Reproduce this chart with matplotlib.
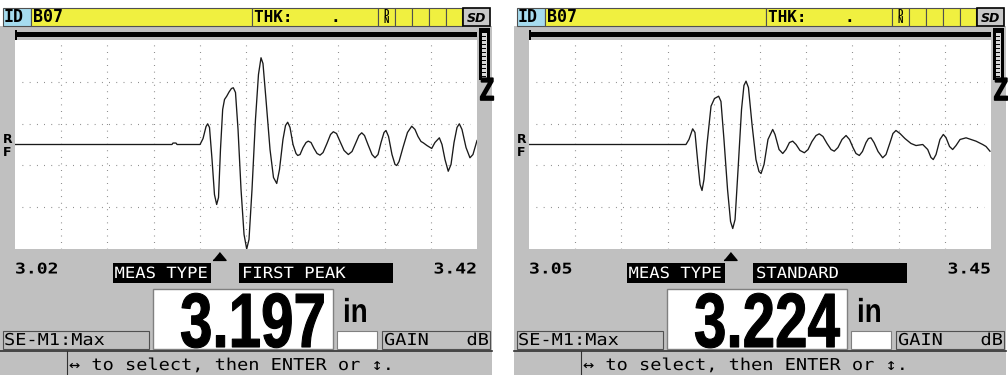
import matplotlib
matplotlib.use("Agg")
import matplotlib.pyplot as plt
from matplotlib.patches import Rectangle
from matplotlib.patheffects import AbstractPathEffect
from matplotlib.transforms import Affine2D, blended_transform_factory
import numpy as np

# ---------------- data ----------------
panel_ids = ["B07", "B07"]
range_start = [3.02, 3.05]
range_end = [3.42, 3.45]
meas_type_values = ["FIRST PEAK", "STANDARD"]
thickness = [3.197, 3.224]
unit_label = "in"
mode_label = "SE-M1:Max"
gain_label = "GAIN"
gain_unit = "dB"
help_text = "\u2194 to select, then ENTER or \u2195."
meas_type_label = "MEAS TYPE"

# RF waveform, panel 1 (x: thickness in inches, y: amplitude in % of half screen)
wave1_x = [3.0200, 3.1559, 3.1568, 3.1594, 3.1603, 3.1802, 3.1828, 3.1854, 3.1868, 3.1884,
           3.1906, 3.1927, 3.1946, 3.1962, 3.1979, 3.1998, 3.2014, 3.2033, 3.2053, 3.2074,
           3.2090, 3.2109, 3.2131, 3.2157, 3.2183, 3.2206, 3.2226, 3.2252, 3.2282, 3.2308,
           3.2330, 3.2347, 3.2373, 3.2408, 3.2438, 3.2466, 3.2490, 3.2520, 3.2542, 3.2561,
           3.2581, 3.2607, 3.2633, 3.2648, 3.2668, 3.2694, 3.2720, 3.2739, 3.2763, 3.2789,
           3.2815, 3.2841, 3.2867, 3.2901, 3.2932, 3.2956, 3.2984, 3.3014, 3.3049, 3.3086,
           3.3118, 3.3152, 3.3178, 3.3202, 3.3226, 3.3256, 3.3291, 3.3317, 3.3343, 3.3369,
           3.3395, 3.3412, 3.3434, 3.3464, 3.3490, 3.3505, 3.3525, 3.3559, 3.3598, 3.3635,
           3.3663, 3.3689, 3.3715, 3.3735, 3.3767, 3.3808, 3.3836, 3.3874, 3.3897, 3.3923,
           3.3951, 3.3975, 3.4001, 3.4027, 3.4047, 3.4070, 3.4105, 3.4139, 3.4165, 3.4200]
wave1_y = [0, 0, 1.4, 1.4, 0, 0, 5.7, 17.2, 19.8, 16.3,
           -14.4, -47.9, -57.4, -50.7, -4.8, 33.5, 43.1, 46.2, 50.2, 53.6,
           54.3, 49.8, 14.4, -43.1, -86.1, -100, -90.9, -43.1, 23.9, 67.0,
           83.0, 77.5, 43.1, -4.8, -31.6, -37.3, -23.9, 4.8, 18.2, 21.3,
           16.3, 0, -8.6, -10.5, -9.6, -2.9, 1.9, 3.2, 1.9, -3.8,
           -8.6, -10.2, -7.7, 1.0, 9.6, 12.2, 10.5, 2.9, -5.7, -9.6,
           -6.7, 1.9, 8.6, 11.2, 8.6, 0, -9.6, -12.7, -9.6, 1.9,
           11.5, 13.4, 7.7, -9.6, -19.1, -20.1, -16.3, -2.9, 11.5, 17.5,
           14.4, 7.7, 2.9, 1.6, -1.0, -3.8, 1.9, 6.4, 0, -14.4,
           -25.6, -19.1, 1.9, 16.3, 19.8, 14.4, -2.9, -12.7, -9.6, 3.8]

# RF waveform, panel 2
wave2_x = [3.0500, 3.1859, 3.1885, 3.1917, 3.1937, 3.1963, 3.1981, 3.1998, 3.2015, 3.2041,
           3.2076, 3.2106, 3.2142, 3.2162, 3.2188, 3.2219, 3.2245, 3.2264, 3.2284, 3.2310,
           3.2340, 3.2361, 3.2379, 3.2400, 3.2431, 3.2465, 3.2491, 3.2509, 3.2535, 3.2569,
           3.2610, 3.2630, 3.2665, 3.2697, 3.2725, 3.2755, 3.2783, 3.2812, 3.2846, 3.2884,
           3.2916, 3.2950, 3.2985, 3.3013, 3.3045, 3.3080, 3.3115, 3.3143, 3.3175, 3.3210,
           3.3245, 3.3275, 3.3305, 3.3331, 3.3360, 3.3387, 3.3418, 3.3439, 3.3461, 3.3487,
           3.3522, 3.3562, 3.3591, 3.3626, 3.3651, 3.3677, 3.3712, 3.3755, 3.3807, 3.3851,
           3.3909, 3.3952, 3.3980, 3.4000, 3.4024, 3.4058, 3.4087, 3.4110, 3.4141, 3.4168,
           3.4197, 3.4232, 3.4284, 3.4327, 3.4370, 3.4428, 3.4457, 3.4491]
wave2_y = [0, 0, 4.8, 15.0, 11.5, -19.1, -38.3, -44.0, -33.5, 0,
           36.7, 44.0, 46.2, 41.2, 4.8, -43.1, -73.7, -80.4, -71.8, -23.9,
           33.5, 56.5, 60.6, 54.5, 19.1, -14.4, -25.8, -27.8, -19.1, 4.8,
           14.4, 9.6, -4.8, -8.6, -4.8, 1.9, 3.2, 0, -5.7, -7.9,
           -4.8, 2.9, 8.6, 10.2, 7.7, 1.0, -4.8, -6.4, -2.9, 4.8,
           8.6, 4.8, -2.9, -8.6, -10.5, -6.7, 1.9, 5.7, 6.4, 1.9,
           -6.7, -12.7, -9.6, 1.9, 10.5, 13.4, 10.5, 5.7, 1.0, -1.0,
           0, -4.8, -12.4, -14.4, -9.6, 4.8, 9.6, 6.7, -1.9, -4.8,
           -1.0, 4.8, 6.4, 4.8, 3.2, 0, -1.9, -6.4]

waves_x = [wave1_x, wave2_x]
waves_y = [wave1_y, wave2_y]

# ---------------- style ----------------
W, H = 1008, 375
PANEL_W = 492
PANEL_OFFSETS = [0, 514]
GRAY = "#c0c0c0"
YELLOW = "#f0f040"
BLUE = "#a6dcef"
EDGE = "#505050"
MONO = ["DejaVu Sans Mono", "DejaVu Sans"]
BIG = ["Liberation Sans", "DejaVu Sans"]


class Stretch(AbstractPathEffect):
    """Scale glyph outlines about the text origin (baseline-left); optional stroke."""

    def __init__(self, sx=1.0, sy=1.0, stroke=0.0):
        super().__init__()
        self.sx, self.sy, self.stroke = sx, sy, stroke

    def draw_path(self, renderer, gc, tpath, affine, rgbFace=None):
        aff = Affine2D().scale(self.sx, self.sy) + affine
        if self.stroke > 0 and rgbFace is not None:
            gc0 = renderer.new_gc()
            gc0.copy_properties(gc)
            gc0.set_linewidth(self.stroke)
            gc0.set_foreground(rgbFace)
            renderer.draw_path(gc0, tpath, aff, rgbFace)
            gc0.restore()
        else:
            renderer.draw_path(gc, tpath, aff, rgbFace)


fig = plt.figure(figsize=(W / 100, H / 100), dpi=100)
fig.patch.set_facecolor("white")
bg = fig.add_axes([0, 0, 1, 1])
bg.set_xlim(0, W)
bg.set_ylim(H, 0)
bg.axis("off")


def rect(x0, y0, x1, y1, fc, ec="none", lw=0.8, z=1):
    bg.add_patch(Rectangle((x0, y0), x1 - x0, y1 - y0, facecolor=fc,
                           edgecolor=ec, linewidth=lw, zorder=z))


def txt(x, y, s, size, family=MONO, sx=1.0, sy=1.0, stroke=0.0, **kw):
    kw.setdefault("va", "baseline")
    kw.setdefault("ha", "left")
    kw.setdefault("zorder", 3)
    t = bg.text(x, y, s, fontsize=size, family=family, **kw)
    if sx != 1.0 or sy != 1.0 or stroke > 0:
        t.set_path_effects([Stretch(sx, sy, stroke)])
    return t


def draw_panel(i):
    ox = PANEL_OFFSETS[i]
    # panel background
    rect(ox, 26, ox + PANEL_W, H, GRAY, z=0)

    # ---- top status bar ----
    rect(ox + 3, 8, ox + 31, 26, BLUE, EDGE)
    rect(ox + 31, 8, ox + 252, 26, YELLOW, EDGE)
    rect(ox + 252, 8, ox + 378, 26, YELLOW, EDGE)
    for (a, b) in [(378, 395), (395, 412), (412, 429), (429, 446), (446, 462)]:
        rect(ox + a, 8, ox + b, 26, YELLOW, EDGE)
    rect(ox + 463, 8, ox + 490, 26, "#c8c8c8", "black", lw=1.2)
    txt(ox + 4, 22.5, "ID", 12, weight="bold")
    txt(ox + 33, 22.5, panel_ids[i], 12, weight="bold")
    txt(ox + 254, 22.5, "THK:    .", 11.5, weight="bold")
    txt(ox + 386.5, 15.5, "D", 6.5, weight="bold", ha="center")
    txt(ox + 386.5, 23, "N", 6.5, weight="bold", ha="center")
    txt(ox + 476.5, 21.5, "SD", 9, family="DejaVu Sans", weight="bold",
        style="italic", ha="center")

    # ---- waveform chrome ----
    rect(ox + 15, 32, ox + 477, 37, "black", z=2)
    rect(ox + 15, 30, ox + 16.5, 40, "black", z=2)
    rect(ox + 479, 28, ox + 490, 80, "black", z=2)
    rect(ox + 482, 33, ox + 487, 78, "#d8d8d8", z=3)
    for ty in np.arange(36, 78, 4):
        bg.plot([ox + 482, ox + 485], [ty, ty], color="black", lw=0.7, zorder=4)
    txt(ox + 480, 100, "Z", 16.5, family=BIG, weight="bold", sy=1.38, stroke=1.2)
    txt(ox + 3, 143, "R", 9, family="DejaVu Sans", weight="bold")
    txt(ox + 3, 156, "F", 9, family="DejaVu Sans", weight="bold")

    # ---- waveform axes ----
    ax = fig.add_axes([(ox + 15) / W, 1 - 249 / H, 462 / W, 209 / H])
    ax.set_facecolor("white")
    ax.set_xlim(range_start[i], range_end[i])
    ax.set_ylim(-100, 100)
    for s in ax.spines.values():
        s.set_visible(False)
    ax.set_xticks([])
    ax.set_yticks([])
    gx = np.linspace(range_start[i], range_end[i], 11)[1:-1]
    ax.vlines(gx, -100, 100, colors="#707070", linewidth=0.8,
              linestyles=(0, (0.7, 5.2)), zorder=1)
    span = range_end[i] - range_start[i]
    ax.hlines([-60, -20, 20, 60], range_start[i] + 0.015 * span,
              range_end[i] - 0.015 * span, colors="#707070", linewidth=0.8,
              linestyles=(0, (0.7, 5.8)), zorder=1)
    ax.plot(waves_x[i], waves_y[i], color="#1a1a1a", lw=0.95, zorder=3)

    # thickness gate marker below the waveform
    tr = blended_transform_factory(ax.transData, bg.transData)
    bg.plot([thickness[i]], [256], transform=tr, marker=[(-1, -0.6), (1, -0.6), (0, 0.6)],
            markersize=9.4, color="black", linestyle="none", clip_on=False, zorder=5)

    # ---- range labels and meas type ----
    txt(ox + 15, 273.5, f"{range_start[i]:.2f}", 13, weight="bold", sy=0.82)
    txt(ox + 477, 273.5, f"{range_end[i]:.2f}", 13, weight="bold", sy=0.82, ha="right")
    rect(ox + 113, 263, ox + 211, 283, "black", z=2)
    txt(ox + 114.5, 278, meas_type_label, 12.4, color="white", sy=0.9)
    rect(ox + 239, 263, ox + 393, 283, "black", z=2)
    txt(ox + 242, 278, meas_type_values[i], 12.4, color="white", sy=0.9)

    # ---- thickness readout ----
    rect(ox + 153, 289, ox + 333, 349, "white", "#808080", lw=1.0)
    txt(ox + 180, 347, f"{thickness[i]:.3f}", 42, family=BIG, weight="bold",
        sy=1.32, stroke=0.8)
    txt(ox + 343, 322, unit_label, 20, family=BIG, weight="bold", sy=1.2)
    rect(ox + 337, 331, ox + 377, 349, "white", "#808080", lw=0.8)
    rect(ox + 382, 331, ox + 490, 349, GRAY, EDGE, lw=0.8)
    txt(ox + 384, 345, gain_label, 13.4, sy=0.88)
    txt(ox + 489, 345, gain_unit, 13.4, sy=0.88, ha="right")
    rect(ox + 3, 331, ox + 149, 349, GRAY, EDGE, lw=0.8)
    txt(ox + 4, 345, mode_label, 13.4, sy=0.88)

    # ---- help bar ----
    bg.plot([ox, ox + PANEL_W], [350.5, 350.5], color="#303030", lw=1.2, zorder=3)
    bg.plot([ox + 67, ox + 67], [350.5, H], color="#303030", lw=0.8, zorder=3)
    txt(ox + 69, 370, help_text, 13.4, sy=0.88)


for k in range(2):
    draw_panel(k)

fig.savefig("out.png", dpi=100, facecolor="white")
